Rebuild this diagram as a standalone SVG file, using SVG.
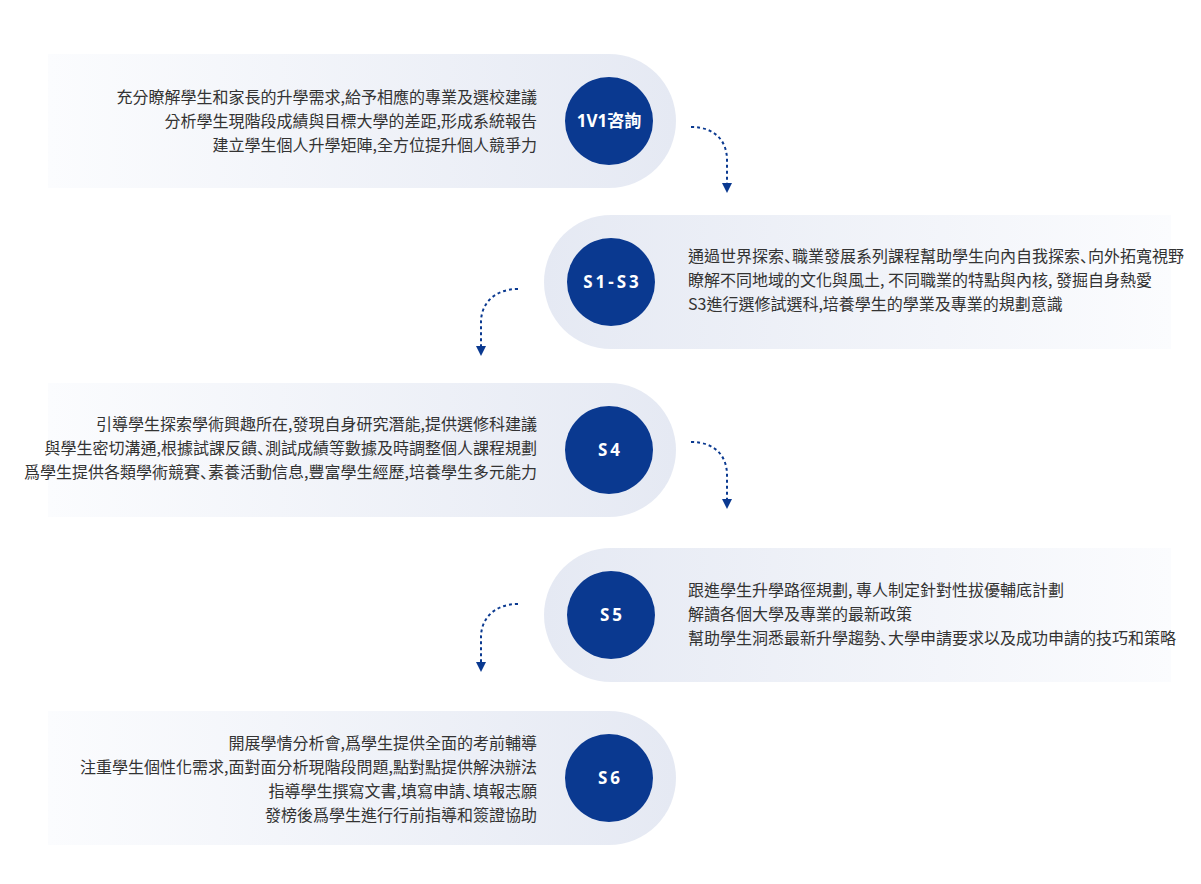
<svg xmlns="http://www.w3.org/2000/svg" width="1201" height="884" viewBox="0 0 1201 884">
<defs>
<linearGradient id="gL" x1="0" y1="0" x2="1" y2="0">
<stop offset="0" stop-color="#fbfcfe"/>
<stop offset="1" stop-color="#e5e9f3"/>
</linearGradient>
<linearGradient id="gR" x1="0" y1="0" x2="1" y2="0">
<stop offset="0" stop-color="#e5e9f3"/>
<stop offset="1" stop-color="#fbfcfe"/>
</linearGradient>
<marker id="ah" markerUnits="userSpaceOnUse" markerWidth="10" markerHeight="10" viewBox="0 0 10 10" refX="0" refY="5" orient="auto">
<path d="M0,0 L10,5 L0,10 Z" fill="#0a3990"/>
</marker>
<style>
.band-l{fill:url(#gL);}
.band-r{fill:url(#gR);}
.dot{fill:#0a3990;}
.lbl{fill:#ffffff;font-family:"Noto Sans","Noto Sans CJK TC",sans-serif;font-weight:700;font-size:17px;text-anchor:middle;}
.sp{letter-spacing:3px;}
.txt{fill:#333333;font-family:"Noto Sans CJK TC","Noto Sans",sans-serif;font-size:16px;}
.end{text-anchor:end;}
.pn{font-family:"Noto Sans CJK SC","Noto Sans CJK TC",sans-serif;letter-spacing:-8px;}
.con{fill:none;stroke:#0a3990;stroke-width:2;stroke-dasharray:3 3;}
</style>
</defs>
<rect width="1201" height="884" fill="#ffffff"/>

<g id="node-1v1">
<path class="band-l" d="M48,54 H609 A67,67 0 0 1 609,188 H48 Z"/>
<circle class="dot" cx="609" cy="121" r="44"/>
<text class="lbl" x="609" y="127">1V1咨詢</text>
<text class="txt end" x="537" y="103">充分瞭解學生和家長的升學需求,給予相應的專業及選校建議</text>
<text class="txt end" x="537" y="127">分析學生現階段成績與目標大學的差距,形成系統報告</text>
<text class="txt end" x="537" y="151">建立學生個人升學矩陣,全方位提升個人競爭力</text>
</g>

<g id="node-s1s3">
<path class="band-r" d="M1171,215 H611 A67,67 0 0 0 611,349 H1171 Z"/>
<circle class="dot" cx="611" cy="282" r="44"/>
<text class="lbl sp" x="612.5" y="288">S1-S3</text>
<text class="txt" x="688" y="262">通過世界探索<tspan class="pn">、</tspan>職業發展系列課程幫助學生向內自我探索<tspan class="pn">、</tspan>向外拓寬視野</text>
<text class="txt" x="688" y="286">瞭解不同地域的文化與風土, 不同職業的特點與內核, 發掘自身熱愛</text>
<text class="txt" x="688" y="310">S3進行選修試選科,培養學生的學業及專業的規劃意識</text>
</g>

<g id="node-s4">
<path class="band-l" d="M48,383 H609 A67,67 0 0 1 609,517 H48 Z"/>
<circle class="dot" cx="609" cy="450" r="44"/>
<text class="lbl sp" x="610.5" y="456">S4</text>
<text class="txt end" x="537" y="430">引導學生探索學術興趣所在,發現自身研究潛能,提供選修科建議</text>
<text class="txt end" x="537" y="454">與學生密切溝通,根據試課反饋<tspan class="pn">、</tspan>測試成績等數據及時調整個人課程規劃</text>
<text class="txt end" x="537" y="478">爲學生提供各類學術競賽<tspan class="pn">、</tspan>素養活動信息,豐富學生經歷,培養學生多元能力</text>
</g>

<g id="node-s5">
<path class="band-r" d="M1171,548 H611 A67,67 0 0 0 611,682 H1171 Z"/>
<circle class="dot" cx="611" cy="615" r="44"/>
<text class="lbl sp" x="612.5" y="621">S5</text>
<text class="txt" x="688" y="596">跟進學生升學路徑規劃, 專人制定針對性拔優輔底計劃</text>
<text class="txt" x="688" y="620">解讀各個大學及專業的最新政策</text>
<text class="txt" x="688" y="644">幫助學生洞悉最新升學趨勢<tspan class="pn">、</tspan>大學申請要求以及成功申請的技巧和策略</text>
</g>

<g id="node-s6">
<path class="band-l" d="M48,711 H609 A67,67 0 0 1 609,845 H48 Z"/>
<circle class="dot" cx="609" cy="778" r="44"/>
<text class="lbl sp" x="610.5" y="784">S6</text>
<text class="txt end" x="537" y="749">開展學情分析會,爲學生提供全面的考前輔導</text>
<text class="txt end" x="537" y="773">注重學生個性化需求,面對面分析現階段問題,點對點提供解決辦法</text>
<text class="txt end" x="537" y="797">指導學生撰寫文書,填寫申請<tspan class="pn">、</tspan>填報志願</text>
<text class="txt end" x="537" y="821">發榜後爲學生進行行前指導和簽證協助</text>
</g>

<g id="connectors">
<path class="con" d="M691,127 C716,127 727,142 727,160 L727,183" marker-end="url(#ah)"/>
<path class="con" d="M518,289 C493,289 481,305 481,322 L481,346" marker-end="url(#ah)"/>
<path class="con" d="M691,442 C716,442 727,457 727,475 L727,499" marker-end="url(#ah)"/>
<path class="con" d="M518,604 C493,604 481,620 481,637 L481,662" marker-end="url(#ah)"/>
</g>
</svg>
